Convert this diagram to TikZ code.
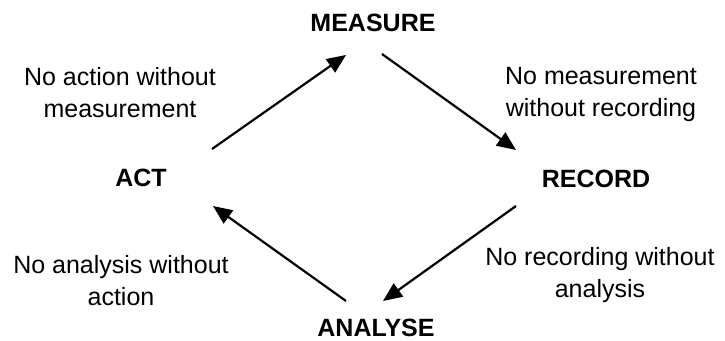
\documentclass[tikz,border=0pt]{standalone}
\usepackage{fontspec}
\setmainfont{Liberation Sans}
\usetikzlibrary{arrows.meta}
\begin{document}
\begin{tikzpicture}[x=1pt,y=-1pt,
  stage/.style={font=\fontsize{25}{31}\selectfont\bfseries, inner sep=0pt, anchor=base},
  rule/.style={font=\fontsize{25}{32}\selectfont, align=center, inner sep=0pt, anchor=north},
  flow/.style={line width=2.2pt, -{Triangle[length=19pt,width=16pt]}}]
\useasboundingbox (0,0) rectangle (725,340);
\node[stage] (measure) at (373,31) {MEASURE};
\node[stage] (act) at (141,186) {ACT};
\node[stage] (record) at (596,187) {RECORD};
\node[stage] (analyse) at (376,336) {ANALYSE};
\node[rule] (r1) at (120,67.5) {No action without\\measurement};
\node[rule] (r2) at (601,67.5) {No measurement\\without recording};
\node[rule] (r3) at (121,255.5) {No analysis without\\action};
\node[rule] (r4) at (600,247.5) {No recording without\\analysis};
\coordinate (a1s) at (212,149);
\coordinate (a1e) at (346,55);
\coordinate (a2s) at (382,54);
\coordinate (a2e) at (516,150);
\coordinate (a3s) at (516,206);
\coordinate (a3e) at (383,301);
\coordinate (a4s) at (346,301);
\coordinate (a4e) at (213,206);
\draw[flow] (a1s) -- (a1e);
\draw[flow] (a2s) -- (a2e);
\draw[flow] (a3s) -- (a3e);
\draw[flow] (a4s) -- (a4e);
\end{tikzpicture}
\end{document}
